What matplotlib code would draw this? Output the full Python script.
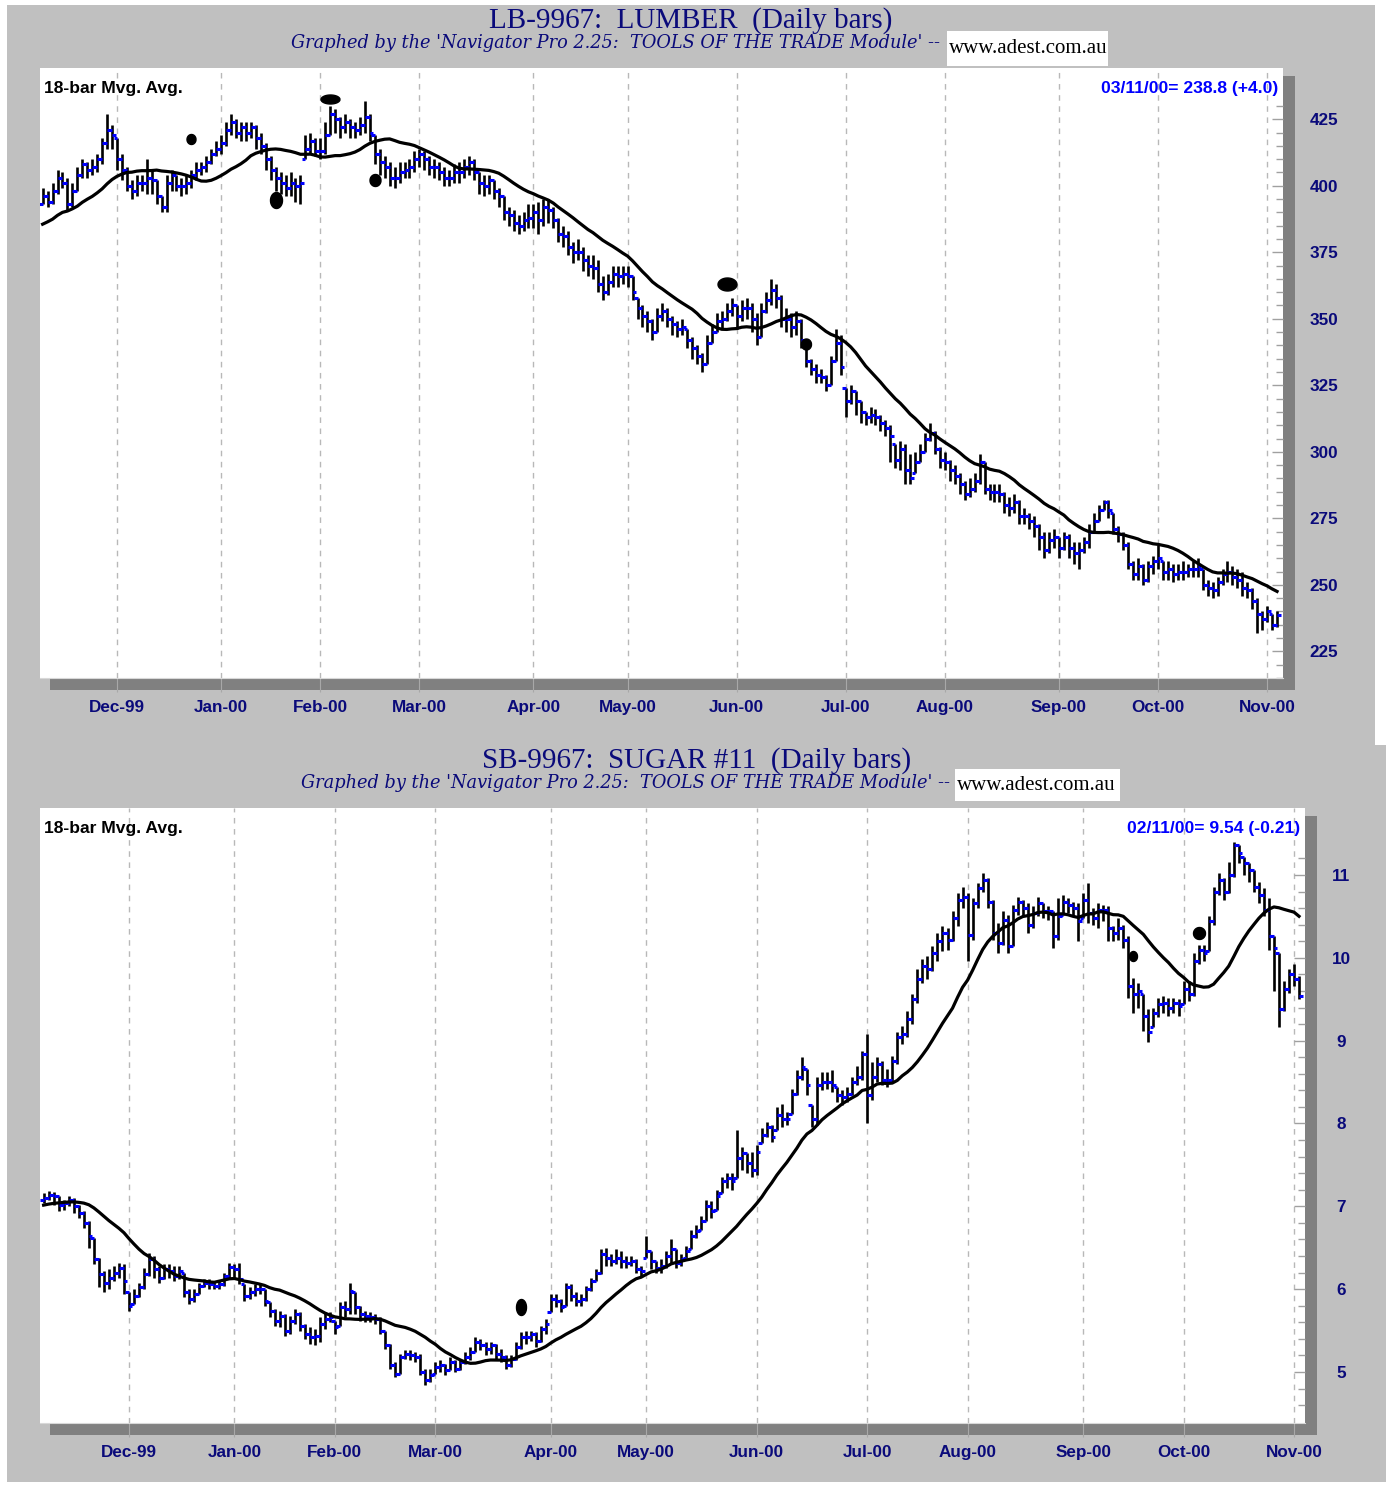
import numpy as np
import pandas as pd
import matplotlib
matplotlib.use("Agg")
import matplotlib.pyplot as plt
from matplotlib.patches import Rectangle


# LB-9967 Lumber, daily bars 9 Nov 1999 .. 3 Nov 2000 (one line per month)
lumber_high = [
    399, 398, 401, 406, 405, 403, 401, 407, 410, 409, 410, 412, 418, 427, 423,
    418, 412, 407, 402, 404, 404, 410, 406, 402, 396, 404, 406, 404, 403, 404, 406, 409, 409, 411, 414, 417,
    419, 424, 427, 425, 424, 424, 424, 423, 420, 416, 411, 407, 405, 404, 405, 403, 404, 419, 420, 418,
    418, 424, 430, 429, 426, 427, 425, 424, 426, 432, 427, 419, 414, 411, 409, 407, 409, 409, 410, 413,
    414, 413, 411, 410, 409, 407, 406, 408, 409, 410, 411, 410, 405, 404, 404, 402, 399, 396, 392, 391, 389, 390, 393,
    393, 394, 395, 395, 392, 388, 385, 383, 379, 380, 377, 374, 374, 372, 366, 367, 370, 370, 370,
    370, 366, 358, 355, 353, 350, 354, 356, 354, 351, 349, 350, 346, 343, 340, 337, 344, 348, 352, 353, 356, 358,
    355, 357, 358, 356, 352, 356, 360, 365, 363, 359, 354, 352, 353, 350, 340, 335, 333, 331, 329, 336, 346, 344,
    324, 325, 323, 319, 315, 317, 316, 314, 312, 310, 303, 304, 303, 299, 300, 303, 307, 311, 308, 302,
    300, 297, 295, 292, 289, 290, 292, 299, 296, 288, 288, 288, 285, 283, 284, 282, 279, 277, 276, 273, 270, 270, 271,
    268, 270, 269, 266, 266, 268, 273, 277, 280, 282, 282, 277, 272, 270, 266, 259, 260, 258, 259, 261,
    265, 259, 259, 258, 258, 259, 258, 259, 260, 256, 252, 251, 253, 256, 259, 257, 256, 255, 251, 249, 245, 240,
    242, 239, 240,
]
lumber_low = [
    393, 392, 393, 397, 399, 391, 392, 398, 403, 403, 404, 405, 408, 414, 414,
    406, 402, 398, 395, 396, 398, 397, 397, 393, 390, 390, 398, 398, 396, 397, 399, 402, 404, 405, 408, 411,
    412, 415, 419, 418, 417, 417, 418, 414, 412, 406, 402, 398, 397, 396, 396, 394, 393, 410, 412, 411,
    410, 412, 419, 420, 418, 420, 418, 418, 419, 420, 417, 408, 404, 403, 400, 399, 401, 403, 403, 405,
    407, 406, 404, 403, 402, 400, 400, 401, 401, 403, 404, 402, 397, 396, 397, 395, 392, 387, 385, 383, 382, 383, 384,
    384, 382, 385, 386, 384, 379, 377, 374, 371, 372, 368, 366, 365, 360, 357, 359, 362, 362, 363,
    362, 357, 350, 347, 345, 342, 345, 349, 347, 344, 343, 344, 339, 335, 333, 330, 333, 341, 345, 346, 349, 351,
    346, 349, 350, 345, 340, 343, 352, 355, 354, 347, 345, 343, 344, 339, 332, 329, 326, 326, 323, 325, 334, 329,
    313, 318, 314, 311, 310, 311, 310, 308, 306, 296, 294, 293, 288, 288, 292, 296, 300, 304, 299, 294,
    293, 289, 288, 284, 282, 283, 285, 288, 284, 282, 281, 281, 277, 276, 277, 273, 273, 271, 268, 263, 260, 262, 264,
    260, 263, 260, 258, 256, 262, 264, 270, 274, 278, 275, 269, 266, 263, 256, 252, 252, 250, 251, 254,
    256, 252, 252, 251, 252, 252, 253, 253, 253, 248, 246, 245, 246, 250, 251, 250, 249, 246, 245, 241, 232, 233,
    236, 233, 234,
]
lumber_close = [
    396, 394, 398, 403, 401, 393, 398, 404, 408, 406, 407, 410, 416, 421, 419,
    410, 406, 400, 398, 401, 401, 403, 402, 396, 392, 401, 404, 400, 400, 401, 404, 406, 407, 409, 412, 414,
    416, 421, 424, 420, 422, 420, 422, 418, 415, 410, 406, 403, 401, 399, 401, 400, 401, 414, 417, 413,
    413, 419, 427, 425, 422, 424, 422, 421, 423, 426, 420, 412, 409, 407, 403, 403, 405, 406, 407, 410,
    412, 410, 407, 407, 405, 403, 403, 405, 405, 407, 409, 405, 401, 400, 402, 398, 396, 390, 389, 386, 385, 387, 388,
    390, 387, 392, 391, 387, 382, 381, 377, 375, 375, 372, 370, 369, 363, 360, 364, 367, 366, 367,
    366, 360, 354, 351, 349, 345, 351, 353, 350, 348, 346, 347, 342, 339, 336, 333, 341, 345, 349, 350, 353, 355,
    351, 354, 354, 350, 343, 353, 357, 361, 358, 350, 350, 347, 349, 342, 334, 331, 329, 328, 325, 334, 341, 332,
    319, 323, 319, 315, 313, 314, 313, 311, 309, 306, 297, 301, 293, 290, 296, 300, 305, 307, 301, 297,
    296, 293, 291, 288, 284, 286, 289, 296, 286, 285, 285, 284, 280, 279, 281, 276, 276, 274, 272, 268, 263, 267, 268,
    264, 268, 264, 262, 263, 266, 270, 274, 278, 281, 278, 271, 269, 265, 258, 254, 257, 252, 257, 259,
    260, 255, 256, 254, 255, 255, 256, 256, 257, 250, 249, 248, 251, 254, 255, 253, 252, 249, 248, 244, 239, 237,
    240, 234.8, 238.8,
]
# closes before the first plotted bar, only needed to start the 18-bar average
lumber_warmup = [378, 380, 377, 381, 384, 383, 386, 382, 385, 388, 386, 389, 387, 390, 388, 391, 389]
lumber_dot_dates = ["1999-12-22", "2000-01-19", "2000-02-03", "2000-02-16", "2000-05-30", "2000-06-21"]
lumber_dot_prices = [417.5, 394.5, 432.5, 402.0, 363.0, 340.5]
lumber_yticks = [225, 250, 275, 300, 325, 350, 375, 400, 425]

# SB-9967 Sugar #11, daily bars 5 Nov 1999 .. 2 Nov 2000
sugar_high = [
    7.16, 7.18, 7.17, 7.12, 7.08, 7.12, 7.10, 7.02, 6.94, 6.82, 6.62, 6.38, 6.22, 6.24, 6.28, 6.32, 6.30,
    5.96, 6.00, 6.08, 6.26, 6.44, 6.40, 6.28, 6.30, 6.30, 6.28, 6.28, 6.20, 6.00, 6.00, 6.08, 6.12, 6.12, 6.10, 6.10, 6.20, 6.32,
    6.30, 6.32, 6.06, 6.02, 6.06, 6.08, 6.00, 5.84, 5.76, 5.74, 5.70, 5.68, 5.76, 5.72, 5.58, 5.54, 5.52, 5.66, 5.72, 5.72,
    5.62, 5.84, 5.86, 6.08, 5.96, 5.80, 5.74, 5.72, 5.70, 5.66, 5.50, 5.34, 5.12, 5.22, 5.26, 5.26, 5.24, 5.22, 5.04, 5.04,
    5.12, 5.14, 5.10, 5.18, 5.14, 5.16, 5.24, 5.30, 5.42, 5.40, 5.36, 5.36, 5.34, 5.28, 5.20, 5.20, 5.36, 5.48, 5.50, 5.50, 5.48, 5.56, 5.64,
    5.94, 5.94, 5.88, 6.08, 6.06, 5.96, 5.94, 6.04, 6.14, 6.24, 6.48, 6.50, 6.42, 6.48, 6.46, 6.40, 6.40, 6.36, 6.28,
    6.64, 6.46, 6.34, 6.36, 6.46, 6.60, 6.48, 6.42, 6.52, 6.72, 6.78, 6.88, 7.08, 7.06, 7.20, 7.36, 7.40, 7.40, 7.92, 7.72, 7.64, 7.66,
    7.74, 7.94, 8.02, 7.98, 8.20, 8.24, 8.14, 8.42, 8.64, 8.80, 8.66, 8.22, 8.56, 8.62, 8.62, 8.64, 8.44, 8.40, 8.44, 8.56, 8.70, 8.88,
    9.08, 8.74, 8.80, 8.76, 8.66, 8.82, 9.10, 9.18, 9.36, 9.56, 9.86, 9.98, 10.02, 10.14, 10.30, 10.38, 10.36, 10.56, 10.78, 10.86,
    10.78, 10.72, 10.90, 11.02, 10.96, 10.70, 10.42, 10.56, 10.52, 10.64, 10.74, 10.70, 10.66, 10.62, 10.74, 10.66, 10.62, 10.56, 10.72, 10.76, 10.72, 10.68, 10.66,
    10.78, 10.90, 10.60, 10.66, 10.64, 10.62, 10.38, 10.48, 10.40, 10.26, 9.76, 9.70, 9.56, 9.38, 9.40, 9.52, 9.54, 9.52, 9.52, 9.50,
    9.72, 9.72, 10.06, 10.16, 10.16, 10.50, 10.86, 11.02, 10.96, 11.16, 11.40, 11.36, 11.22, 11.14, 11.06, 10.92, 10.84, 10.72, 10.26, 10.06, 9.72, 9.86,
    9.92, 9.78,
]
sugar_low = [
    7.04, 7.08, 7.02, 6.94, 6.96, 7.00, 6.92, 6.86, 6.74, 6.50, 6.30, 6.02, 5.96, 6.00, 6.10, 6.14, 5.94,
    5.74, 5.82, 5.90, 6.00, 6.16, 6.14, 6.08, 6.12, 6.14, 6.10, 6.12, 5.90, 5.82, 5.84, 5.94, 6.02, 6.00, 6.00, 6.00, 6.04, 6.14,
    6.14, 6.06, 5.86, 5.88, 5.92, 5.94, 5.80, 5.66, 5.56, 5.54, 5.44, 5.46, 5.58, 5.50, 5.40, 5.34, 5.32, 5.36, 5.52, 5.60,
    5.46, 5.56, 5.66, 5.70, 5.70, 5.62, 5.60, 5.60, 5.58, 5.46, 5.28, 5.04, 4.94, 4.98, 5.16, 5.14, 5.12, 4.96, 4.84, 4.88,
    4.98, 5.00, 4.96, 5.02, 5.00, 5.02, 5.10, 5.14, 5.24, 5.26, 5.20, 5.22, 5.16, 5.12, 5.04, 5.06, 5.14, 5.28, 5.34, 5.38, 5.30, 5.36, 5.46,
    5.72, 5.78, 5.72, 5.80, 5.86, 5.80, 5.80, 5.86, 5.98, 6.10, 6.18, 6.28, 6.28, 6.30, 6.26, 6.26, 6.28, 6.20, 6.16,
    6.38, 6.24, 6.20, 6.20, 6.26, 6.30, 6.26, 6.28, 6.38, 6.48, 6.62, 6.72, 6.82, 6.86, 6.96, 7.16, 7.22, 7.20, 7.34, 7.44, 7.40, 7.36,
    7.38, 7.76, 7.84, 7.78, 7.92, 7.96, 7.98, 8.12, 8.34, 8.52, 8.34, 7.96, 7.98, 8.40, 8.42, 8.38, 8.26, 8.22, 8.26, 8.34, 8.46, 8.52,
    8.00, 8.28, 8.50, 8.46, 8.44, 8.50, 8.72, 8.96, 9.04, 9.20, 9.46, 9.70, 9.74, 9.84, 9.96, 10.08, 10.10, 10.20, 10.38, 10.60,
    9.96, 10.22, 10.60, 10.80, 10.60, 10.22, 10.06, 10.16, 10.06, 10.14, 10.52, 10.50, 10.30, 10.36, 10.50, 10.48, 10.46, 10.12, 10.22, 10.52, 10.54, 10.50, 10.20,
    10.48, 10.42, 10.40, 10.36, 10.44, 10.20, 10.20, 10.22, 10.12, 9.52, 9.34, 9.40, 9.12, 8.98, 9.16, 9.28, 9.34, 9.30, 9.34, 9.30,
    9.44, 9.48, 9.54, 9.92, 9.96, 10.08, 10.40, 10.76, 10.70, 10.78, 10.98, 11.14, 11.00, 10.92, 10.80, 10.66, 10.50, 10.10, 9.60, 9.16, 9.36, 9.58,
    9.66, 9.50,
]
sugar_close = [
    7.10, 7.14, 7.12, 7.02, 7.04, 7.08, 7.00, 6.92, 6.80, 6.64, 6.36, 6.18, 6.08, 6.14, 6.20, 6.26, 6.10,
    5.80, 5.92, 6.02, 6.18, 6.36, 6.24, 6.14, 6.24, 6.22, 6.16, 6.22, 5.96, 5.88, 5.94, 6.04, 6.08, 6.06, 6.04, 6.06, 6.16, 6.27,
    6.24, 6.12, 5.92, 5.96, 6.00, 6.00, 5.86, 5.74, 5.62, 5.68, 5.50, 5.62, 5.70, 5.56, 5.46, 5.42, 5.44, 5.58, 5.64, 5.66,
    5.54, 5.78, 5.76, 5.98, 5.78, 5.70, 5.68, 5.66, 5.64, 5.50, 5.32, 5.08, 4.98, 5.18, 5.22, 5.20, 5.18, 5.00, 4.90, 4.96,
    5.06, 5.08, 5.02, 5.12, 5.04, 5.12, 5.18, 5.24, 5.36, 5.32, 5.28, 5.32, 5.22, 5.18, 5.08, 5.16, 5.30, 5.42, 5.42, 5.46, 5.38, 5.52, 5.58,
    5.88, 5.86, 5.78, 6.02, 5.92, 5.86, 5.88, 6.00, 6.10, 6.20, 6.42, 6.38, 6.34, 6.38, 6.34, 6.32, 6.34, 6.24, 6.22,
    6.46, 6.34, 6.26, 6.28, 6.40, 6.48, 6.32, 6.36, 6.46, 6.64, 6.70, 6.82, 7.00, 6.94, 7.12, 7.30, 7.34, 7.30, 7.58, 7.64, 7.52, 7.44,
    7.66, 7.86, 7.96, 7.84, 8.10, 8.06, 8.06, 8.36, 8.56, 8.68, 8.46, 8.06, 8.46, 8.50, 8.50, 8.46, 8.34, 8.32, 8.36, 8.50, 8.56, 8.84,
    8.34, 8.56, 8.72, 8.52, 8.52, 8.76, 9.04, 9.08, 9.26, 9.50, 9.74, 9.90, 9.86, 10.06, 10.20, 10.30, 10.22, 10.48, 10.70, 10.74,
    10.28, 10.66, 10.84, 10.94, 10.68, 10.30, 10.18, 10.46, 10.14, 10.58, 10.68, 10.60, 10.40, 10.54, 10.66, 10.56, 10.56, 10.26, 10.50, 10.68, 10.64, 10.60, 10.44,
    10.70, 10.54, 10.48, 10.58, 10.58, 10.36, 10.30, 10.36, 10.22, 9.66, 9.56, 9.60, 9.30, 9.10, 9.34, 9.44, 9.46, 9.40, 9.46, 9.42,
    9.62, 9.56, 9.96, 10.10, 10.06, 10.44, 10.80, 10.94, 10.80, 11.00, 11.36, 11.26, 11.14, 11.06, 10.86, 10.76, 10.58, 10.26, 10.12, 9.38, 9.62, 9.80,
    9.75, 9.54,
]
sugar_warmup = [6.92, 6.96, 6.90, 6.94, 7.00, 6.98, 7.02, 6.96, 7.00, 7.04, 7.06, 7.02, 7.08, 7.04, 7.10, 7.06, 7.08]
sugar_dot_dates = ["2000-03-24", "2000-09-18", "2000-10-05"]
sugar_dot_prices = [5.78, 10.02, 10.30]
sugar_yticks = [5, 6, 7, 8, 9, 10, 11]

# exchange holidays in the period
holidays = pd.to_datetime(["1999-11-25", "1999-12-24", "1999-12-31", "2000-01-17", "2000-02-21",
                           "2000-04-21", "2000-05-29", "2000-07-04", "2000-09-04"])

NAVY = "#0a0a7a"
BLUE = "#0000ff"
GREY_BG = "#c0c0c0"
SHADOW = "#808080"

W, H = 1386, 1488
fig = plt.figure(figsize=(W / 100, H / 100), dpi=100)
fig.patch.set_facecolor("white")


def fx(x):
    return x / W


def fy(y):
    return 1 - y / H


def fig_box(x0, y0, x1, y1, color, z):
    fig.add_artist(Rectangle((fx(x0), fy(y1)), (x1 - x0) / W, (y1 - y0) / H, transform=fig.transFigure,
                             facecolor=color, edgecolor="none", zorder=z))


def trading_days(start, end):
    d = pd.bdate_range(start, end)
    return d[~d.isin(holidays)]


def ellipse(w, h):
    t = np.linspace(0, 2 * np.pi, 40)
    return np.column_stack((w * np.cos(t), h * np.sin(t)))


def panel(frame, plot, title, y_title, sub_right, www, dates, high, low, close, warmup,
          dot_dates, dot_prices, dot_sizes, yticks, ylim, xlim, minor, last_text, label_px):
    fig_box(*frame, GREY_BG, -3)
    x0, y0, x1, y1 = plot
    fig_box(x0 + 10, y0 + 8, x1 + 12, y1 + 12, SHADOW, -2)

    fig.text(fx((frame[0] + frame[2]) / 2), fy(y_title + 1), title, ha="center", va="center",
             family="Liberation Serif", fontsize=21, color=NAVY)
    fig.text(fx(sub_right), fy(y_title + 23), "Graphed by the 'Navigator Pro 2.25:  TOOLS OF THE TRADE Module' --",
             ha="right", va="center", family="DejaVu Serif", style="italic", fontsize=12.8, color=NAVY)
    fig_box(*www, "white", -1)
    fig.text(fx(www[0] + 2), fy((www[1] + www[3]) / 2), "www.adest.com.au", ha="left", va="center",
             family="Liberation Serif", fontsize=15, color="black")

    ax = fig.add_axes([fx(x0), fy(y1), (x1 - x0) / W, (y1 - y0) / H])
    ax.set_facecolor("white")
    n = min(len(dates), len(close))
    x = np.arange(n)
    c = np.asarray(close[:n], float)
    hi = np.maximum(np.asarray(high[:n], float), c)
    lo = np.minimum(np.asarray(low[:n], float), c)
    op = np.clip(np.r_[warmup[-1], c[:-1]], lo, hi)

    ma = pd.Series(np.r_[warmup, c]).rolling(18).mean().to_numpy()[len(warmup):]

    ax.vlines(x, lo, hi, color="black", lw=1.9, zorder=3)
    ax.hlines(op, x - 0.7, x, color=BLUE, lw=2.2, zorder=4)
    ax.hlines(c, x, x + 0.7, color=BLUE, lw=2.2, zorder=4)
    ax.plot(x, ma, color="black", lw=2.3, zorder=5)

    for d, p, (w, h) in zip(dot_dates, dot_prices, dot_sizes):
        i = dates.get_loc(pd.Timestamp(d))
        ax.plot(i, p, ls="none", marker=ellipse(w, h), ms=max(w, h) * 0.72, color="black", zorder=6)

    months = dates.to_period("M")
    first = [i for i in range(1, n) if months[i] != months[i - 1]]
    ax.set_xticks(first)
    ax.set_xticklabels([dates[i].strftime("%b-%y") for i in first])
    ax.grid(axis="x", color="#b8b8b8", ls=(0, (4, 4)), lw=1)
    ax.set_xlim(*xlim)
    ax.set_ylim(*ylim)
    ax.set_yticks(yticks)
    ax.set_yticks(np.arange(yticks[0] - 2 * minor, yticks[-1] + 2 * minor, minor), minor=True)
    ax.yaxis.tick_right()
    ax.tick_params(axis="y", which="both", direction="in", color="#a0a0a0", width=1)
    ax.tick_params(axis="y", which="major", length=8, pad=label_px * 0.72)
    ax.tick_params(axis="y", which="minor", length=5)
    ax.tick_params(axis="x", direction="out", length=10, color="#a8a8a8", pad=6)
    for t in ax.get_yticklabels():
        t.set_horizontalalignment("center")
    for t in ax.get_xticklabels() + ax.get_yticklabels():
        t.set_family("Liberation Sans")
        t.set_fontweight("bold")
        t.set_fontsize(12.3)
        t.set_color(NAVY)
    for s in ["top", "left", "right"]:
        ax.spines[s].set_visible(False)
    ax.spines["bottom"].set_color("#d8d8d8")

    ax.text(0.003, 0.967, "18-bar Mvg. Avg.", transform=ax.transAxes, ha="left", va="center",
            family="Liberation Sans", fontweight="bold", fontsize=12.6, color="black")
    ax.text(0.996, 0.967, last_text, transform=ax.transAxes, ha="right", va="center",
            family="Liberation Sans", fontweight="bold", fontsize=12.6, color=BLUE)
    return ax


lumber_dates = trading_days("1999-11-09", "2000-11-03")
sugar_dates = trading_days("1999-11-05", "2000-11-02")

panel(frame=(7, 5, 1375, 745), plot=(40, 68, 1283, 678), title="LB-9967:  LUMBER  (Daily bars)",
      y_title=20, sub_right=940, www=(947, 31, 1108, 66), dates=lumber_dates,
      high=lumber_high, low=lumber_low, close=lumber_close, warmup=lumber_warmup,
      dot_dates=lumber_dot_dates, dot_prices=lumber_dot_prices,
      dot_sizes=[(9, 10), (12, 16), (19, 9), (11, 12), (19, 13), (10, 11)],
      yticks=lumber_yticks, ylim=(218.33, 444.26), xlim=(-0.53, 250.2), minor=5,
      last_text="03/11/00= 238.8 (+4.0)", label_px=41)

panel(frame=(7, 745, 1386, 1482), plot=(40, 808, 1305, 1423), title="SB-9967:  SUGAR #11  (Daily bars)",
      y_title=760, sub_right=950, www=(955, 769, 1120, 801), dates=sugar_dates,
      high=sugar_high, low=sugar_low, close=sugar_close, warmup=sugar_warmup,
      dot_dates=sugar_dot_dates, dot_prices=sugar_dot_prices,
      dot_sizes=[(10, 16), (8, 10), (12, 12)],
      yticks=sugar_yticks, ylim=(4.384, 11.809), xlim=(-0.72, 251.19), minor=0.2,
      last_text="02/11/00= 9.54 (-0.21)", label_px=36)

fig.savefig("out.png", dpi=100, facecolor=fig.get_facecolor())
